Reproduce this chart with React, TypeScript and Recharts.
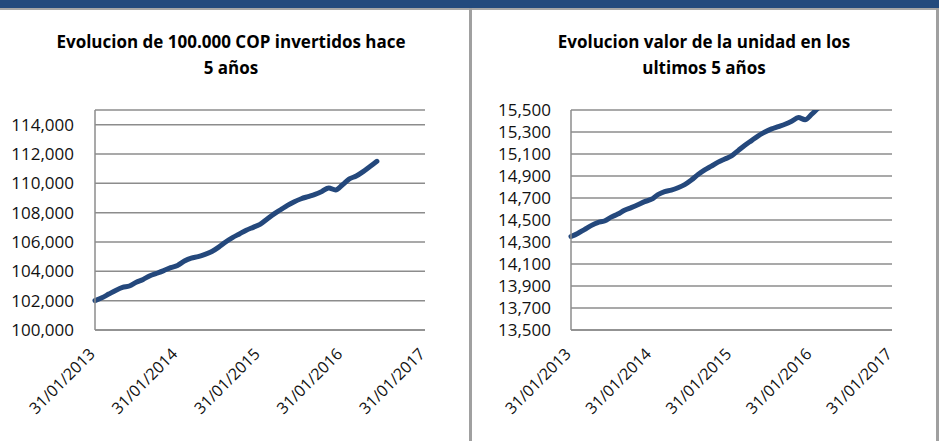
import { LineChart, Line, XAxis, YAxis, CartesianGrid } from 'recharts';

// month index from 31/01/2013
const months = [
  0, 1, 2, 3, 4, 5, 6, 7, 8, 9, 10, 11, 12, 13, 14, 15, 16, 17, 18, 19, 20,
  21, 22, 23, 24, 25, 26, 27, 28, 29, 30, 31, 32, 33, 34, 35, 36, 37, 38, 39, 40, 41,
];

// Evolucion de 100.000 COP
const inversion = [
  102000, 102200, 102450, 102700, 102900, 103000, 103250, 103450, 103700, 103870, 104050,
  104250, 104400, 104700, 104900, 105000, 105150, 105350, 105650, 106000, 106300, 106550,
  106800, 107000, 107200, 107550, 107900, 108200, 108500, 108750, 108950, 109100, 109250,
  109450, 109680, 109550, 109900, 110300, 110500, 110800, 111150, 111500,
];

// valor de la unidad
const unidad = [
  14350, 14378, 14413, 14449, 14477, 14491, 14526, 14554, 14589, 14613, 14639,
  14667, 14688, 14730, 14758, 14772, 14793, 14822, 14864, 14913, 14955, 14990,
  15026, 15054, 15082, 15131, 15180, 15222, 15265, 15300, 15328, 15349, 15370,
  15398, 15431, 15412, 15462, 15518, 15546, 15588, 15638, 15687,
];

const xTicks = [0, 12, 24, 36, 48];
const xLabels = ['31/01/2013', '31/01/2014', '31/01/2015', '31/01/2016', '31/01/2017'];

const leftTicks = [100000, 102000, 104000, 106000, 108000, 110000, 112000, 114000];
const rightTicks = [13500, 13700, 13900, 14100, 14300, 14500, 14700, 14900, 15100, 15300, 15500];

const FONT = '"Open Sans", sans-serif';
const LINE_COLOR = '#24487c';
const GRID_COLOR = '#8c8c8c';

const leftData = months.map((m, i) => ({ m, v: inversion[i] }));
const rightData = months.map((m, i) => ({ m, v: unidad[i] }));

const fmt = (v: number) => v.toLocaleString('en-US');

const DateTick = ({ x, y, payload }: any) => {
  const idx = xTicks.indexOf(payload.value);
  const tx = x + 1;
  const ty = y + 17;
  return (
    <text
      x={tx}
      y={ty}
      textAnchor="end"
      fontSize={16}
      fontFamily={FONT}
      fill="#111"
      transform={`rotate(-45, ${tx}, ${ty})`}
    >
      {xLabels[idx]}
    </text>
  );
};

interface PanelProps {
  data: { m: number; v: number }[];
  ticks: number[];
  domain: [number, number];
  width: number;
  yWidth: number;
  tickMargin: number;
}

const Panel = ({ data, ticks, domain, width, yWidth, tickMargin }: PanelProps) => (
  <LineChart
    width={width}
    height={441}
    data={data}
    margin={{ top: 110, right: 45, left: 20, bottom: 51 }}
  >
    <CartesianGrid vertical={false} stroke={GRID_COLOR} strokeWidth={1.5} />
    <XAxis
      dataKey="m"
      type="number"
      domain={[0, 48]}
      ticks={xTicks}
      height={60}
      tickLine={false}
      axisLine={{ stroke: GRID_COLOR, strokeWidth: 1.5 }}
      tick={<DateTick />}
      interval={0}
    />
    <YAxis
      domain={domain}
      ticks={ticks}
      allowDataOverflow
      width={yWidth}
      tickLine={false}
      tickMargin={tickMargin}
      axisLine={{ stroke: GRID_COLOR, strokeWidth: 1.5 }}
      tickFormatter={fmt}
      tick={{ fontSize: 17, fontFamily: FONT, fill: '#111' }}
      interval={0}
    />
    <Line
      type="monotone"
      dataKey="v"
      stroke={LINE_COLOR}
      strokeWidth={5}
      strokeLinecap="round"
      dot={false}
      isAnimationActive={false}
    />
  </LineChart>
);

const titleStyle = {
  position: 'absolute' as const,
  top: 29,
  textAlign: 'center' as const,
  fontFamily: FONT,
  fontWeight: 700,
  fontSize: 17,
  lineHeight: '26px',
  color: '#000',
};

export default function App() {
  return (
    <div
      style={{
        position: 'absolute',
        left: 0,
        top: 0,
        width: 939,
        height: 441,
        background: '#fff',
        overflow: 'hidden',
      }}
    >
      <div style={{ position: 'absolute', left: 0, top: 0, width: 939, height: 8, background: '#234a7d' }} />
      <div style={{ position: 'absolute', left: 0, top: 8, width: 939, height: 2, background: '#a6a6a6' }} />
      <div style={{ position: 'absolute', left: 469, top: 8, width: 3, height: 433, background: '#a0a0a0' }} />
      <div style={{ position: 'absolute', left: 936, top: 8, width: 3, height: 433, background: '#a0a0a0' }} />

      <div style={{ ...titleStyle, left: 0, width: 462 }}>
        Evolucion de 100.000 COP invertidos hace
        <br />5 años
      </div>
      <div style={{ ...titleStyle, left: 472, width: 464 }}>
        Evolucion valor de la unidad en los
        <br />ultimos 5 años
      </div>

      <div style={{ position: 'absolute', left: 0, top: 0 }}>
        <Panel data={leftData} ticks={leftTicks} domain={[100000, 115000]} width={470} yWidth={75} tickMargin={15} />
      </div>
      <div style={{ position: 'absolute', left: 471, top: 0 }}>
        <Panel data={rightData} ticks={rightTicks} domain={[13500, 15500]} width={466} yWidth={80} tickMargin={14} />
      </div>
    </div>
  );
}
